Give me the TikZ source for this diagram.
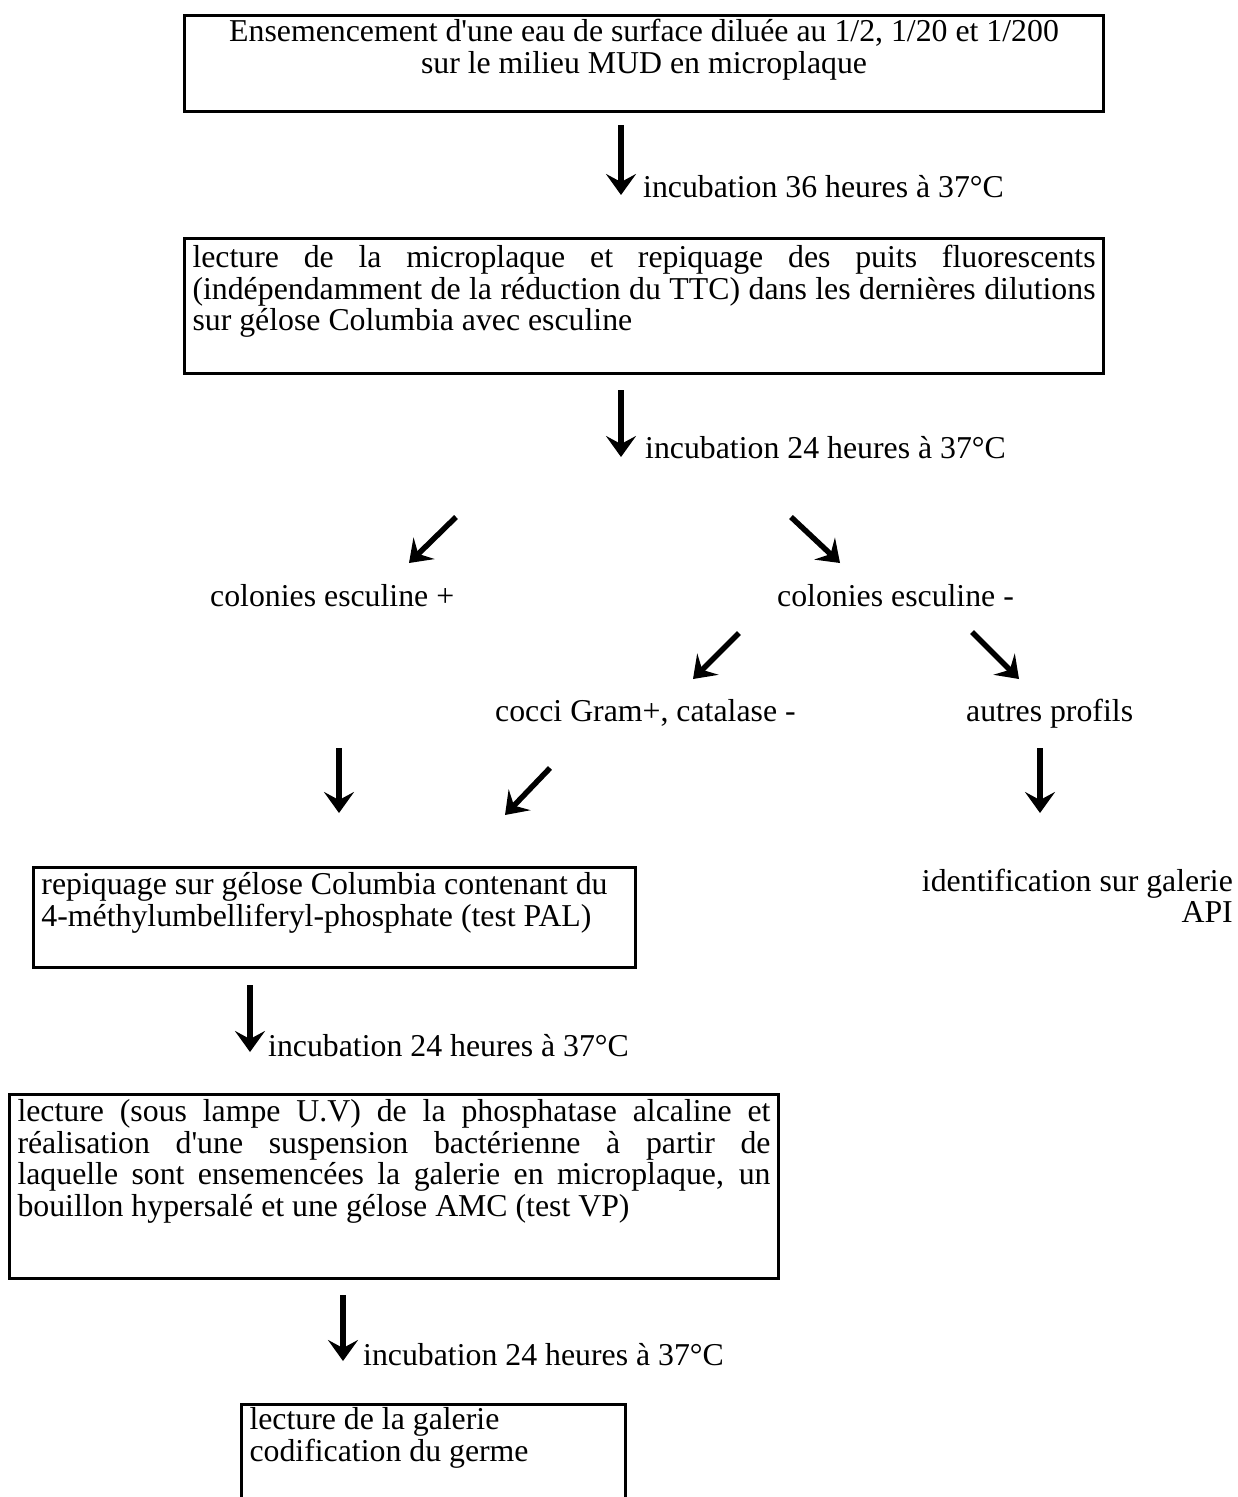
\documentclass[tikz,border=0pt]{standalone}
\usepackage{fontspec}
\newfontfamily\mainf{Liberation Serif}
\usetikzlibrary{arrows.meta}
\tikzset{
  flow/.style={line width=5.5pt, -{Stealth[length=21pt,width=30pt,inset=8pt]}},
  box/.style={draw, line width=3pt, inner xsep=8pt, inner ysep=0pt, anchor=north west},
  lbl/.style={inner sep=0pt, anchor=base west, font=\mainf\fontsize{31.8}{31.5}\selectfont},
}
% #1 height, #2 width, #3 alignment, #4 first baseline offset, #5 text
\newcommand\boxpar[5]{\parbox[t][#1][t]{#2}{\mainf\fontsize{31.8}{31.5}\selectfont
  \tolerance=10000\hyphenpenalty=10000\emergencystretch=20pt#3\rule{0pt}{#4}#5}}
\begin{document}
\begin{tikzpicture}[x=1pt,y=-1pt]
\useasboundingbox (0,0) rectangle (1238,1497);
\fill[white] (0,0) rectangle (1238,1497);

% box 1
\node[box] (b1) at (183,14) {\boxpar{96pt}{903pt}{\centering}{26pt}{Ensemencement d'une eau de surface diluée au 1/2, 1/20 et 1/200\\ sur le milieu MUD en microplaque}};

\coordinate (a1s) at (621,125); \coordinate (a1e) at (621,195);
\draw[flow] (a1s) -- (a1e);
\node[lbl] (l1) at (643,197) {incubation 36 heures à 37°C};

% box 2
\node[box] (b2) at (183,237) {\boxpar{135pt}{903pt}{}{29pt}{lecture de la microplaque et repiquage des puits fluorescents\linebreak (indépendamment de la réduction du TTC) dans les dernières dilutions\linebreak sur gélose Columbia avec esculine}};

\coordinate (a2s) at (621,390); \coordinate (a2e) at (621,457);
\draw[flow] (a2s) -- (a2e);
\node[lbl] (l2) at (645,458) {incubation 24 heures à 37°C};

% first split
\coordinate (d1s) at (456,517); \coordinate (d1e) at (409,563);
\coordinate (d2s) at (791,517); \coordinate (d2e) at (840,563);
\draw[flow] (d1s) -- (d1e);
\draw[flow] (d2s) -- (d2e);
\node[lbl] (cplus) at (210,606) {colonies esculine +};
\node[lbl] (cminus) at (777,606) {colonies esculine -};

% second split
\coordinate (d3s) at (739,633); \coordinate (d3e) at (693,679);
\coordinate (d4s) at (972,632); \coordinate (d4e) at (1019,679);
\draw[flow] (d3s) -- (d3e);
\draw[flow] (d4s) -- (d4e);
\node[lbl] (cocci) at (495,721) {cocci Gram+, catalase -};
\node[lbl] (autres) at (966,721) {autres profils};

% third row arrows
\coordinate (v1s) at (339,748); \coordinate (v1e) at (339,813);
\coordinate (d5s) at (550,768); \coordinate (d5e) at (505,815);
\coordinate (v2s) at (1040,748); \coordinate (v2e) at (1040,813);
\draw[flow] (v1s) -- (v1e);
\draw[flow] (d5s) -- (d5e);
\draw[flow] (v2s) -- (v2e);

% box 3
\node[box] (b3) at (32,866) {\boxpar{100pt}{586pt}{\raggedright}{27pt}{repiquage sur gélose Columbia contenant du\\ 4-méthylumbelliferyl-phosphate (test PAL)}};

\node[inner sep=0pt, anchor=north east, align=right, font=\mainf\fontsize{31.8}{31.5}\selectfont] (ident) at (1233,866) {\rule{0pt}{25pt}identification sur galerie\\ API};

\coordinate (a3s) at (250,985); \coordinate (a3e) at (250,1052);
\draw[flow] (a3s) -- (a3e);
\node[lbl] (l3) at (268,1056) {incubation 24 heures à 37°C};

% box 4
\node[box] (b4) at (8,1093) {\boxpar{184pt}{753pt}{}{27pt}{lecture (sous lampe U.V) de la phosphatase alcaline et\linebreak réalisation d'une suspension bactérienne à partir de\linebreak laquelle sont ensemencées la galerie en microplaque, un\linebreak bouillon hypersalé et une gélose AMC (test VP)}};

\coordinate (a4s) at (343,1295); \coordinate (a4e) at (343,1361);
\draw[flow] (a4s) -- (a4e);
\node[lbl] (l4) at (363,1365) {incubation 24 heures à 37°C};

% box 5 (cut by the page edge)
\begin{scope}
\clip (0,0) rectangle (1238,1497);
\node[box] (b5) at (240,1403) {\boxpar{160pt}{368pt}{\raggedright}{25pt}{lecture de la galerie\\ codification du germe}};
\end{scope}
\end{tikzpicture}
\end{document}
